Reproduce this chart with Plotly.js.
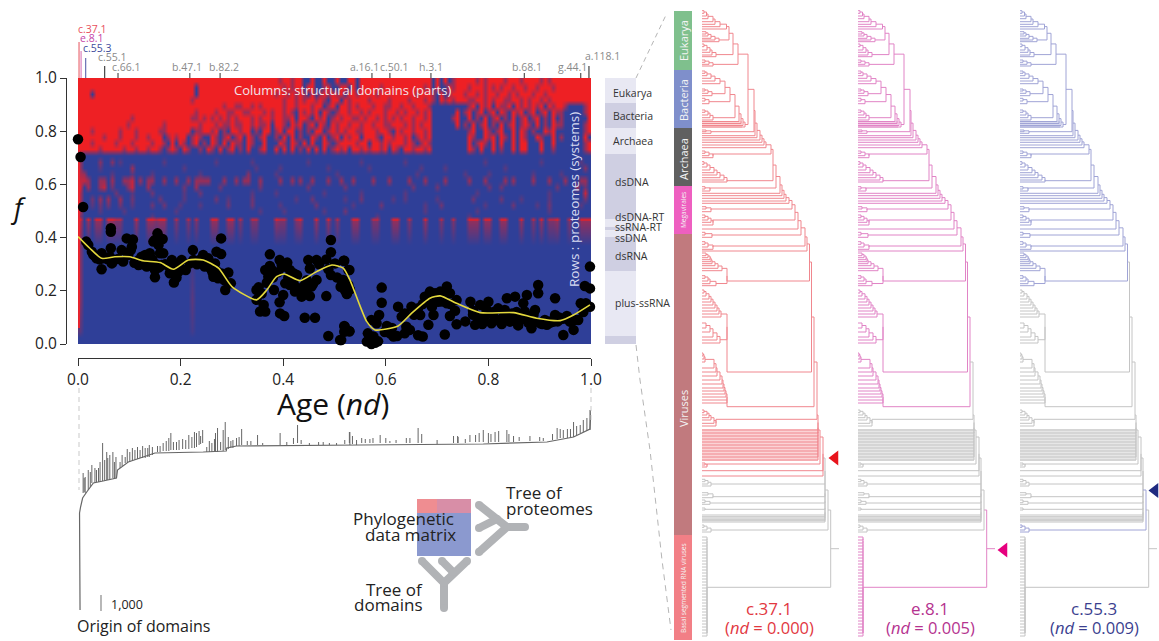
<!DOCTYPE html>
<html><head><meta charset="utf-8">
<script src="https://cdn.plot.ly/plotly-3.0.1.min.js"></script>
<style>html,body{margin:0;padding:0;background:#fff}</style></head>
<body><div id="chart" style="width:1159px;height:641px"></div>
<script>
// ---------- phylogenetic matrix: each string is one row (top to bottom), one digit per column, 0 = absent (blue) .. 9 = present (red)
var matrixRows = [
"99999999 99999999 99999999 99999999 99999999 99999999 99599599 00900900 90099099 99999999 99999999 09090599 99959599 99599959 99959599 99999999",
"99999999 99999999 99999999 99999099 99999999 99999999 99959599 09900590 09909099 99959999 99999959 09009599 95999595 95995995 99599959 99999999",
"99909999 99999999 99999999 99999099 99999999 99999999 95995959 50905959 59099599 99599999 99995999 50905999 59959599 59959599 95995999 99999999",
"99999999 99999999 99999999 99995999 99999999 99999999 99959959 59959509 90959999 59999599 99599959 50959599 95599595 99559959 59959599 99999999",
"99999999 99999999 99999999 99999999 99995995 59959599 99959959 99599059 09959599 95995599 59959995 00000000 05909590 95590959 59590959 95000059",
"99999999 99999999 99999999 99999599 99599559 95599959 59959509 59590950 59959959 59995995 95995959 00000090 59059059 09509590 59059095 50000059",
"99999999 99999599 99999999 99995595 95959595 99959599 59955909 95095905 95995595 99595959 59959959 00000590 09050905 90509059 05905090 50000009",
"99999999 99995999 99999599 99999959 99595595 59959559 09950959 05909509 59959959 95995599 95959599 00000090 50905905 09059059 50905095 50000059",
"99959999 99599959 99995599 99990559 95905099 59905099 05909905 05099059 59599559 99599509 59959959 00000000 05900950 59009095 05009590 00000059",
"99999959 99599959 95999059 59905950 09505905 90950590 05090905 00950905 90959909 99509959 95905959 00000000 09500959 09509095 00950090 50000090",
"99959999 95999599 99599509 09505905 09509095 50950090 00950950 90900950 59999599 09959599 95950595 00000000 09059509 09009099 00090090 00000059",
"99999599 99959959 95995059 50950050 95090590 50900590 09090905 09090905 95909959 59959095 09959959 00000000 09509009 05009099 00090050 00000059",
"50000000 00000000 00000000 00000000 00000000 00000000 00000000 00000000 00000000 00000000 00000000 00000000 00000000 00000000 00000000 00000000",
"50000400 40200000 00000200 00000000 00200000 00020000 00000000 02000000 00000020 00000000 02000000 00000000 00000200 00000000 00020000 00000200",
"50000200 00000500 00000000 00200000 00000000 00002000 00200000 00000020 00000000 20000000 00000200 00020000 00000000 00200000 00000000 00000040",
"65000000 20000200 00200000 00000020 00000000 00400000 02000000 00000000 20000000 00000000 00002000 00000000 20000020 00000000 02000000 20000000",
"77500550 50055705 05500500 50050555 50005005 05500500 00500505 00500050 05005000 05000500 00500050 00050000 05000500 00505000 05000500 05000550",
"80500570 30004700 05000000 00300500 00030000 00000300 00000000 03000000 00300000 00000000 00030000 03000000 00000030 03000000 00000003 00005030",
"60000000 03000200 00300000 00200030 00000000 00020000 02000000 00000200 00000020 00000000 02000000 00000000 00020000 00000000 00000200 00000070",
"60030505 00500300 00003000 00200000 00300200 00030000 00000020 00300000 00200030 00000020 02000000 02000000 00300000 03000020 00000200 00000030",
"60020303 00300200 00300300 02000020 00000300 00030000 00200000 00030000 00002000 00030000 00000020 00300000 00000200 00003000 00200300 00000200",
"60000200 00020000 00000000 20000000 00000000 00000200 00020000 00000200 00300000 00000000 00000020 00000000 00020000 00000000 00000200 00000000",
"40000000 00000000 00200000 00000000 00000000 00000000 00000000 00000000 00000000 00200000 00000000 00000000 02000000 00000000 00000000 00000000",
"90909909 97700090 09979900 70070700 09900990 70077000 09770079 00090090 70009900 07700099 00700090 00700700 09990990 09900090 07090779 00700999",
"40000000 00000000 00000000 00000000 00000000 00000000 00000000 00000000 00000000 00000000 00000000 00000000 00000000 00000000 00000000 00000000",
"40000000 00000000 00000000 00002000 00000000 00000000 00000000 00000000 00000000 00000000 00000000 00000000 00000000 00000000 00000000 00000000",
"00000000 00000000 00000000 00000000 00000000 00000000 00000000 00000000 00000000 00000000 00000000 00000000 00000000 00000000 00000000 00000000"
];
var matrixRowEdges = [1,.977,.953,.93,.906,.883,.86,.837,.812,.79,.766,.743,.72,.697,.673,.65,.627,.603,.58,.557,.533,.51,.487,.475,.462,.28,.05,0];
var leftStripAge = [.002,.002];
var leftStripF = [.72,.06];

// ---------- f value versus age (nd) for each structural domain
var domainAge = [.000,.005,.010,.016,.020,.027,.030,.036,.046,.046,.049,.064,.064,.064,.062,.066,.085,.088,.095,.107,.103,.098,.105,.118,.124,.131,.134,.140,.155,.150,.147,.165,.157,.160,.166,.150,.150,.144,.163,.183,.189,.189,.187,.179,.196,.202,.210,.224,.218,.225,.244,.247,.254,.270,.279,.279,.267,.264,.273,.293,.298,.287,.348,.352,.362,.355,.365,.348,.374,.374,.365,.378,.371,.382,.393,.400,.393,.394,.402,.408,.397,.413,.404,.420,.427,.413,.423,.436,.452,.442,.462,.449,.465,.452,.465,.455,.442,.484,.484,.493,.493,.493,.488,.501,.519,.529,.517,.527,.520,.524,.488,.519,.529,.511,.519,.518,.527,.522,.524,.514,.520,.529,.513,.572,.569,.563,.572,.579,.576,.587,.582,.592,.592,.602,.608,.615,.624,.631,.637,.637,.647,.650,.663,.667,.663,.672,.676,.683,.686,.693,.696,.702,.706,.719,.719,.725,.725,.715,.738,.738,.765,.774,.780,.784,.790,.800,.806,.819,.823,.832,.836,.842,.852,.852,.862,.868,.875,.871,.884,.891,.891,.897,.897,.901,.914,.927,.930,.930,.946,.953,.959,.966,.975,.980,.990,.998,.998,.988,.998,.812,.826,.840,.858,.878,.905,.920,.938,.770,.795,.755,.690,.710,.735,
.034,.042,.058,.070,.078,.110,.118,.126,.137,.145,.152,.158,.170,.178,.186,.192,.198,.232,.240,.250,.258,.262,.270,.280,.285,.358,.368,.380,.390,.400,.410,.420,.430,.440,.446,.458,.470,.505,.512,.530,.565,.574,.585,.598,.612,.622,.640,.655,.672,.680,.690,.712,.726,.770,.788,.796,.810,.828,.846,.855,.866,.880,.888,.910,.920,.935,.945,.968,.985];
var domainF = [.770,.703,.515,.385,.372,.347,.335,.322,.341,.281,.322,.435,.422,.360,.328,.303,.353,.310,.397,.393,.353,.335,.366,.297,.328,.335,.291,.341,.416,.391,.385,.395,.372,.341,.341,.251,.278,.297,.297,.316,.291,.266,.231,.266,.272,.316,.278,.353,.303,.316,.335,.291,.322,.347,.397,.338,.303,.253,.247,.269,.228,.203,.203,.213,.147,.122,.122,.166,.337,.293,.278,.278,.253,.203,.316,.184,.157,.115,.105,.306,.297,.278,.228,.266,.259,.222,.197,.178,.180,.099,.099,.316,.316,.284,.241,.216,.222,.180,.318,.391,.345,.259,.281,.303,.313,.278,.241,.222,.203,.188,.030,.068,.048,.015,.046,.313,.278,.228,.191,.241,.065,.048,.015,.090,.028,.009,.000,.005,.028,.109,.078,.212,.155,.068,.040,.028,.140,.103,.115,.040,.053,.140,.134,.109,.033,.028,.178,.072,.197,.109,.191,.159,.197,.216,.153,.191,.105,.036,.165,.074,.159,.072,.103,.147,.096,.159,.078,.134,.084,.128,.172,.084,.178,.096,.090,.153,.184,.122,.059,.128,.084,.222,.191,.078,.072,.084,.172,.109,.034,.105,.084,.053,.090,.153,.153,.140,.291,.218,.209,.095,.075,.105,.070,.080,.075,.085,.100,.125,.110,.085,.140,.160,.125,
.330,.318,.318,.315,.320,.305,.315,.300,.310,.318,.300,.288,.300,.290,.300,.250,.285,.300,.320,.305,.285,.270,.275,.265,.240,.190,.230,.250,.270,.290,.250,.230,.210,.200,.240,.225,.300,.250,.215,.205,.040,.015,.010,.045,.060,.030,.065,.110,.150,.160,.170,.170,.150,.110,.075,.130,.120,.100,.115,.120,.110,.090,.110,.090,.080,.085,.095,.090,.120];
var smoothAge = [.000,.023,.046,.072,.101,.127,.160,.186,.215,.244,.274,.300,.348,.368,.387,.402,.433,.465,.495,.517,.530,.549,.563,.579,.624,.650,.686,.706,.738,.784,.849,.894,.940,.966,.998];
var smoothF = [.404,.360,.322,.328,.328,.313,.306,.281,.316,.316,.285,.216,.166,.203,.253,.263,.238,.272,.297,.285,.241,.147,.084,.053,.068,.115,.172,.181,.153,.118,.118,.097,.088,.109,.147];

// ---------- labelled domains above the matrix
var labelNames = ["c.37.1","e.8.1","c.55.3","c.55.1","c.66.1","b.47.1","b.82.2","a.16.1","c.50.1","h.3.1","b.68.1","g.44.1","a.118.1"];
var labelAge = [.002,.006,.015,.052,.078,.218,.277,.573,.608,.688,.870,.980,.996];
var labelTickTop = [42,51,58,66,73,73,73,73,73,73,73,73,66];

// ---------- proteome groups beside the matrix
var bandNames = ["Eukarya","Bacteria","Archaea","dsDNA","dsDNA-RT","ssRNA-RT","ssDNA","dsRNA","plus-ssRNA",""];
var bandTop = [1,.906,.812,.714,.47,.44,.427,.402,.274,.03];
var bandBottom = [.906,.812,.714,.47,.44,.427,.402,.274,.03,0];

// ---------- tree of domains (age, height on the page)
var backboneAge = [.004,.004,.003,.005,.009,.017,.030,.049,.075,.077,.098,.127,.150,.244,.289,.290,.309,.550,.790,.914,.966,.998,1.0];
var backboneY = [610,543,513,507,498,492,483,481,478,470,462,457,453,452,451,448,446,445,444,442,437,429,410];
var spikeAge = [.010,.014,.027,.033,.040,.048,.056,.062,.068,.074,.082,.092,.101,.111,.121,.131,.139,.166,.181,.192,.204,.222,.231,.243,.251,.261,.272,.278,.287,.302,.309,.319,.337,.350,.394,.407,.428,.451,.469,.504,.530,.543,.529,.553,.569,.589,.608,.647,.663,.732,.741,.764,.782,.800,.813,.836,.849,.881,.907,.934,.946,.954,.966,.979,.998,
.012,.02,.024,.036,.043,.052,.058,.071,.086,.096,.106,.116,.126,.136,.145,.155,.16,.172,.177,.186,.197,.21,.216,.227,.236,.239,.256,.266,.268,.283,.293,.298,.314,.33,.36,.42,.435,.478,.49,.52,.535,.56,.575,.6,.62,.64,.67,.7,.74,.755,.775,.79,.805,.82,.84,.86,.9,.925,.94,.96,.972,.985,.992];
var spikeBase = [493,493,483,483,482,481,480,480,478,478,468,463,462,460,458,458,457,451,450,450,449,448,447,443,452,452,452,450,450,448,446,445,445,445,445,445,443,445,445,445,445,445,443,443,443,443,443,443,443,443,443,442,442,443,442,442,442,441,441,439,438,438,437,433,430,
492,490,487,482,482,481,480,478,466,462,461,459,458,457,455,452,452,451,451,450,450,449,449,448,445,444,452,452,452,451,449,448,446,445,445,444,444,445,445,444,444,443,443,443,443,443,443,444,443,443,442,442,442,442,442,441,441,440,438,437,435,432,431];
var spikeTop = [473,477,465,468,468,443,452,455,452,457,462,457,452,450,450,448,445,443,433,442,439,437,433,430,447,443,428,442,422,440,438,429,441,435,433,442,425,443,442,443,432,440,432,438,439,435,441,438,428,436,437,435,433,433,432,430,436,436,438,428,430,429,422,425,410,
478,470,472,470,462,460,458,462,455,449,448,447,446,448,447,446,446,441,438,442,440,440,435,432,431,436,441,439,433,430,437,441,437,441,443,438,440,442,443,440,436,439,438,438,440,438,434,440,436,439,435,430,434,431,434,437,437,434,429,429,426,420,418];

// ---------- proteome tree: tips (page height) and node depths of every clade
var clades = {
 S0:{tips:[10.7,13.3,16,18.7,21.7,24.3,26.7,29],nodes:[2,4.5,6,11,13,18,24.5]},
 S1:{tips:[31.7,34,36,38.3,40,41.7],nodes:[4,6,9,13,17]},
 S2:{tips:[44,46.7,50,52.3,55,56.7],nodes:[2,5,8,10,14]},
 S3:{tips:[60,62.3,64.3,66],nodes:[3,7,11]},
 EUK:{tips:["S0","S1","S2","S3"],nodes:[27,31,36,42]},
 B1:{tips:[71,73.3,75.7,78.3,81,83.7],nodes:[3,5,9,13,18]},
 B2:{tips:[89,91,93.3,95.7],nodes:[3,6,10]},
 B3:{tips:[98.3,101,103.7],nodes:[3,7]},
 B4:{tips:[110,112.3,115,117.7,120],nodes:[3,6,8,11]},
 BAC:{tips:["B1","B2","B3","B4",121.5,123.5,125.5,127],nodes:[23,28,33,37,39,41,43]},
 TOP:{tips:["EUK","BAC"],nodes:[46]},
 C1:{tips:[130,131.7,133.3],nodes:[4,9]},
 C2:{tips:[151,153.3,155.7,157.7],nodes:[3,7,11]},
 C3:{tips:[161.7,164.3,167,170,172.7,175,177.7,180,182],nodes:[2,5,8,12,15,18,22,25]},
 C4:{tips:[186.7,189,191],nodes:[3,8]},
 C5:{tips:[206.7,209,211.7],nodes:[4,9]},
 C6:{tips:[215,217.7,220,222.3,225],nodes:[3,6,9,11]},
 C8:{tips:[232.3,235,237.3],nodes:[3,10]},
 C9:{tips:[241.7,244.3,247,249.3],nodes:[3,6,11]},
 D1:{tips:[253,255.7,257.7,259.7,261.7,263.7,265.7,268.3,270.7],nodes:[4,6,8,9,10,13,16,20]},
 D2:{tips:[275.7,278.3,281,283.7,285.7],nodes:[3,6,8,14]},
 D:{tips:["D1","D2"],nodes:[25]},
 E1:{tips:[290,293,296,299,302,305,308,311,314,317],nodes:[2,4,7,9,11,13,15,17,19]},
 E2:{tips:[323,328,332,337,340,343],nodes:[4,8,11,15,18]},
 E:{tips:["E1","E2"],nodes:[25]},
 F:{tips:[353,356,359,362,368,372,376,380,384,388,391,394,397,400,403],nodes:[1,2,3,12,14,15,18,20,21,22,23,24,25,25]},
 H:{tips:[410,412.7,415,417.7,420,423.3,426],nodes:[2,5,7,9,12,14]},
 I:{tips:[463,465,467],nodes:[3,5]},
 G1:{tips:[479.3,481.7,484,486],nodes:[3,6,9]},
 G2:{tips:[492.7,495,497.7],nodes:[6,11]},
 G3:{tips:[500,502.7,504.3],nodes:[3,8]},
 G4:{tips:[508,510],nodes:[3]},
 G5:{tips:[525,527.3,530,532],nodes:[2,5,9]},
 BASAL:{tips:[537,540,543,546,549,552,555,558,561,564,567,570,573,576,579,582,585,588,591,594,597,600,603,606,609,612,615,618,621,624,627,630,633,636],nodes:5}
};
// main spine: [clade or tip height, branch height, node depth, colour group, height the previous node leaves at (optional)]
var mainSpine = [
 ["C1",131.7,52,"top"],[135.7,135.7,53,"top"],[137.7,137.7,55,"top"],[140,140,58,"top"],[142.3,142.3,60,"top"],[145,145,62,"top"],[147.7,147.7,64,"top"],
 ["C2",154,69,"top"],["C3",180.7,71,"top"],["C4",188,74,"top"],[193.3,193.3,78,"top"],[195.7,195.7,80,"top"],[198.3,198.3,82,"top"],[201,201,84,"top"],[203.3,203.3,87,"top"],
 ["C5",209,90,"top"],["C6",220,93,"top"],[229,229,96,"top"],["C8",235,99,"top"],["C9",246,103,"top"],[251,251,105,"top"],["D",281,107.5,"top"],
 ["E",372,109.5,"mid",262],["F",406.7,112,"mid",317],
 ["H",419.3,115,"near",362],
 [430,430,116,"near",415],[433,433,116,"near"],[436,436,116,"near"],[439,439,116,"near"],[442,442,116,"near"],[445,445,116,"near"],[448,448,116,"near"],[451,451,116,"near"],[454,454,116,"near"],[457,457,116,"near"],[460,460,116,"near"],
 ["I",464,118,"near",430],[470.7,470.7,121,"near",437],[476,476,121,"near"],
 ["G1",484,123,"far",458],["G2",496.7,123,"far"],["G3",503,123,"far"],["G4",509.3,123,"far"],[515,515,123,"far"],[516.7,516.7,123,"far"],[518,518,123,"far"],[519.3,519.3,123,"far"],[520.7,520.7,123,"far"],[522,522,123,"far"],
 ["G5",530,126,"blueClade",490],
 ["BASAL",587.3,128.7,"root",510]
];
var rootStubY = 548.7, rootStubDepth = [128.7,137];
var groupColors = {
 top:["#f0878e","#e184c6","#a0a4d6"], mid:["#f0878e","#e184c6","#c4c4c4"], near:["#f0878e","#c4c4c4","#c4c4c4"],
 far:["#c4c4c4","#c4c4c4","#c4c4c4"], blueClade:["#c4c4c4","#c4c4c4","#a0a4d6"], root:["#c4c4c4","#e184c6","#c4c4c4"]
};
var denseBlockFill = ["#fbd3d5","#e6e6e6","#e6e6e6"];
var denseTopFill = ["#fbd3d5","#f3cce6","#d5d7ee"];
var panelXaxes = ["x3","x4","x5"];
var panelNames = ["c.37.1","e.8.1","c.55.3"];
var panelNd = ["0.000","0.005","0.009"];
var panelTextColor = ["#e2383f","#b5338f","#3b3f8f"];
var panelArrowColor = ["#e8141c","#e6007e","#1f2a80"];
var panelArrowDepth = [133,146,135];
var panelArrowY = [458,550,490.5];

// taxonomy strip
var taxonNames = ["Eukarya","Bacteria","Archaea","Megavirales","Viruses","Basal segmented RNA viruses"];
var taxonTop = [11,70,128,186,234,535];
var taxonBottom = [70,128,186,234,535,640];
var taxonColors = ["#7fc08d","#7f8fcb","#606060","#ee5fc0","#c17a7e","#f27f86"];

// ---------- tree geometry
function buildSegments() {
  var segs = {};
  function add(g,x0,y0,x1,y1){ (segs[g]=segs[g]||[]).push([x0,y0,x1,y1]); }
  function clade(name,g){
    var c = clades[name], kids = c.tips.map(function(t){
      return typeof t==="number" ? {y:t,d0:0} : clade(t,g); });
    var J = kids[0].y, prev = 0;
    for (var i=1;i<kids.length;i++){
      var d = typeof c.nodes==="number" ? c.nodes : c.nodes[i-1];
      if (i===1) add(g,kids[0].d0,kids[0].y,d,kids[0].y);
      else if (d!==prev) add(g,prev,J,d,J);
      add(g,kids[i].d0,kids[i].y,d,kids[i].y);
      add(g,d,J,d,kids[i].y);
      J=(J+kids[i].y)/2; prev=d;
    }
    return {y:J,d0:prev};
  }
  var r = clade("TOP","top"), J=r.y, prev=r.d0;
  add("top",46,r.y,49,r.y); prev=49;
  mainSpine.forEach(function(m){
    var g=m[3], d=m[2], hook=m[1], kid;
    if (typeof m[0]==="string"){ kid=clade(m[0],g); if (Math.abs(kid.y-hook)>0.01) add(g,kid.d0,kid.y,kid.d0,hook); }
    else kid={y:hook,d0:0};
    if (m[4]!==undefined) J=m[4];
    if (d!==prev) add(g,prev,J,d,J);
    add(g,kid.d0,hook,d,hook);
    add(g,d,J,d,hook);
    J=(J+hook)/2; prev=d;
  });
  add("root",rootStubDepth[0],rootStubY,rootStubDepth[1],rootStubY);
  return segs;
}
var traces = [];
var seen = matrixRows.map(function(r){return r.replace(/ /g,"").split("").map(Number);}).reverse();
traces.push({type:"heatmap",z:seen,x0:1/256,dx:1/128,y:matrixRowEdges.slice().reverse(),xaxis:"x",yaxis:"y",zsmooth:"best",
  zmin:0,zmax:9,showscale:false,hoverinfo:"skip",colorscale:[[0,"#2f3f98"],[1,"#ee2024"]]});
traces.push({type:"scatter",mode:"lines",x:leftStripAge,y:leftStripF,xaxis:"x",yaxis:"y",line:{color:"#e8242e",width:2},hoverinfo:"skip"});
traces.push({type:"scatter",mode:"markers",x:domainAge,y:domainF,xaxis:"x",yaxis:"y",cliponaxis:false,
  marker:{color:"#000",size:10.5},hoverinfo:"skip"});
traces.push({type:"scatter",mode:"lines",x:smoothAge,y:smoothF,xaxis:"x",yaxis:"y",cliponaxis:false,
  line:{color:"#e3d83c",width:1.6,shape:"spline",smoothing:0.6},hoverinfo:"skip"});

// label ticks above the matrix
var labelTickColors = ["#e8606a","#d977b8","#5a63ad","#333","#444","#444","#444","#444","#444","#444","#444","#444","#333"];
labelAge.forEach(function(a,i){
  traces.push({type:"scatter",mode:"lines",x:[a,a],y:[labelTickTop[i],78],xaxis:"x",yaxis:"y2",cliponaxis:false,
    line:{color:labelTickColors[i],width:1.1},hoverinfo:"skip"});
});
// tree of domains
var sx=[],sy=[];
spikeAge.forEach(function(a,i){ sx.push(a,a,null); sy.push(spikeBase[i],spikeTop[i],null); });
traces.push({type:"scatter",mode:"lines",x:sx,y:sy,xaxis:"x",yaxis:"y2",line:{color:"#666",width:1},hoverinfo:"skip"});
traces.push({type:"scatter",mode:"lines",x:backboneAge,y:backboneY,xaxis:"x",yaxis:"y2",line:{color:"#666",width:1.2},hoverinfo:"skip"});

// proteome trees
var segs = buildSegments();
panelXaxes.forEach(function(ax,p){
  ["far","root","mid","near","blueClade","top"].forEach(function(g){
    var xs=[],ys=[];
    (segs[g]||[]).forEach(function(s){ xs.push(s[0],s[2],null); ys.push(s[1],s[3],null); });
    traces.push({type:"scatter",mode:"lines",x:xs,y:ys,xaxis:ax,yaxis:"y2",line:{color:groupColors[g][p],width:1},hoverinfo:"skip",cliponaxis:false});
  });
  traces.push({type:"scatter",mode:"markers",x:[panelArrowDepth[p]],y:[panelArrowY[p]],xaxis:ax,yaxis:"y2",cliponaxis:false,
    marker:{symbol:"triangle-left",size:13,color:panelArrowColor[p]},hoverinfo:"skip"});
});

// decoration lines on the page axis
function pageLine(xs,ys,color,width,dash,rounded){
  traces.push({type:"scatter",mode:rounded?"lines+markers":"lines",x:xs,y:ys,xaxis:"x2",yaxis:"y2",
    line:{color:color,width:width,dash:dash||"solid"},marker:{color:color,size:width},hoverinfo:"skip"});
}
pageLine([636,666],[78,15],"#b5b5b5",1,"5px,4px");
pageLine([636,640,650,662,671],[345,380,450,560,630],"#b5b5b5",1,"6px,5px");
pageLine([79,79],[388,490],"#c9c9c9",1,"5px,4px");
pageLine([591,591],[388,424],"#c9c9c9",1,"5px,4px");
pageLine([101,101],[595,611],"#888",1.2);
var icon="#b1b3b6";
pageLine([479,507,479],[505,527,552],icon,8,"solid",true);
pageLine([479,497],[528,519],icon,8,"solid",true);
pageLine([507,525],[527,527],icon,8,"solid",true);
pageLine([422,444,467],[561,583,561],icon,8,"solid",true);
pageLine([442,453],[561,572],icon,8,"solid",true);
pageLine([444,444],[583,608],icon,8,"solid",true);

// shapes
var shapes=[];
bandNames.forEach(function(n,i){
  var dark=[1,3,5,7,9].indexOf(i)>=0;
  shapes.push({type:"rect",xref:"x2",yref:"y",x0:605,x1:636,y0:bandBottom[i],y1:bandTop[i],line:{width:0},
    fillcolor:dark?"#cfcfe2":"#e8e8f3"});
});
taxonNames.forEach(function(n,i){
  shapes.push({type:"rect",xref:"x2",yref:"y2",x0:674,x1:692,y0:taxonTop[i],y1:taxonBottom[i],line:{width:0},fillcolor:taxonColors[i]});
});
panelXaxes.forEach(function(ax,p){
  shapes.push({type:"rect",layer:"below",xref:ax,yref:"y2",x0:0,x1:116,y0:429,y1:461,line:{width:0},fillcolor:denseBlockFill[p]});
  shapes.push({type:"rect",layer:"below",xref:ax,yref:"y2",x0:0,x1:40,y0:121,y1:128,line:{width:0},fillcolor:denseTopFill[p]});
});
shapes.push({type:"rect",xref:"x2",yref:"y2",x0:417,x1:471,y0:499,y1:513,line:{width:0},fillcolor:"#ef8d91"});
shapes.push({type:"rect",xref:"x2",yref:"y2",x0:437,x1:471,y0:499,y1:513,line:{width:0},fillcolor:"#cf8fb0",opacity:.7});
shapes.push({type:"rect",xref:"x2",yref:"y2",x0:417,x1:471,y0:513,y1:556,line:{width:0},fillcolor:"#8b99cf"});

// text
var ann=[];
function T(x,y,text,size,color,extra){
  var a={xref:"x2",yref:"y2",x:x,y:y,text:text,showarrow:false,font:{size:size,color:color,family:"Open Sans, Noto Sans, sans-serif"},xanchor:"center",yanchor:"middle"};
  for (var k in extra) a[k]=extra[k];
  ann.push(a);
}
var labelCenters=[92,91.5,97,112.5,126,187,224,364,394.5,431,526.5,572,602.5];
var labelYs=[29,38,48,57,67,67,67,67,67,67,67,67,56];
var labelColors=["#e8505c","#c545a8","#3c4b9c","#8a8a8a","#8a8a8a","#8a8a8a","#8a8a8a","#8a8a8a","#8a8a8a","#8a8a8a","#8a8a8a","#8a8a8a","#8a8a8a"];
labelNames.forEach(function(n,i){ T(labelCenters[i],labelYs[i],n,10.5,labelColors[i]); });
var bandLabelY=[93,116,141,182,217,227,238,256,303];
bandNames.forEach(function(n,i){ if(n) T(i<3?611:613,bandLabelY[i],n,10.5,"#333",{xanchor:"left"}); });
T(342,90,"Columns: structural domains (parts)",13,"#f2e4ea");
T(574,200,"Rows : proteomes (systems)",13.5,"#d9dcf2",{textangle:-90});
T(18,207,"<i>f</i>",27,"#111");
T(333,403,"Age (<i>nd</i>)",30,"#111");
T(143,626,"Origin of domains",16,"#222");
T(127,604,"1,000",12.5,"#222");
T(403,518,"Phylogenetic",17,"#222");
T(410,534,"data matrix",17,"#222");
T(504,492,"Tree of",17,"#222",{xanchor:"left"});
T(504,508,"proteomes",17,"#222",{xanchor:"left"});
T(425,589,"Tree of",17,"#222",{xanchor:"right"});
T(425,604,"domains",17,"#222",{xanchor:"right"});
var taxonLabelY=[41,100,159,210,409,588], taxonLabelSize=[11,11,11,6.5,11,6.5];
taxonNames.forEach(function(n,i){ T(683,taxonLabelY[i],n,taxonLabelSize[i],"#f4f4f4",{textangle:-90}); });
var panelCenters=[769,930,1094];
panelNames.forEach(function(n,i){
  T(panelCenters[i],608,n,17,panelTextColor[i]);
  T(panelCenters[i],627,"(<i>nd</i> = "+panelNd[i]+")",16.5,panelTextColor[i]);
});

var W=1159,H=641;
function hidden(dom,range,extra){
  var a={domain:dom,range:range,visible:false,fixedrange:true};
  for (var k in extra) a[k]=extra[k];
  return a;
}
var font={family:"Open Sans, Noto Sans, sans-serif",color:"#222"};
var layout={width:W,height:H,margin:{l:0,r:0,t:0,b:0},paper_bgcolor:"#fff",plot_bgcolor:"rgba(0,0,0,0)",showlegend:false,font:font,
  xaxis:{domain:[78/W,591/W],range:[0,1],anchor:"free",position:1-358/H,side:"bottom",dtick:.2,tick0:0,tickformat:".1f",ticks:"outside",ticklen:7,tickcolor:"#333",
    showline:true,linecolor:"#333",linewidth:1,showgrid:false,zeroline:false,tickfont:{size:15.5,color:"#222"},fixedrange:true},
  yaxis:{domain:[1-344/H,1-78/H],range:[0,1],anchor:"free",position:66/W,side:"left",dtick:.2,tick0:0,tickformat:".1f",ticks:"outside",ticklen:6,tickcolor:"#333",
    showline:true,linecolor:"#333",linewidth:1,showgrid:false,zeroline:false,tickfont:{size:15.5,color:"#222"},fixedrange:true},
  xaxis2:hidden([0,1],[0,W],{anchor:"y2"}),
  yaxis2:hidden([0,1],[H,0],{anchor:"x2"}),
  xaxis3:hidden([702/W,(702+150)/W],[0,150],{anchor:"y2"}),
  xaxis4:hidden([858/W,(858+150)/W],[0,150],{anchor:"y2"}),
  xaxis5:hidden([1020/W,1],[0,139],{anchor:"y2"}),
  shapes:shapes,annotations:ann};
Plotly.newPlot("chart",traces,layout,{staticPlot:true,displayModeBar:false});
</script></body></html>
